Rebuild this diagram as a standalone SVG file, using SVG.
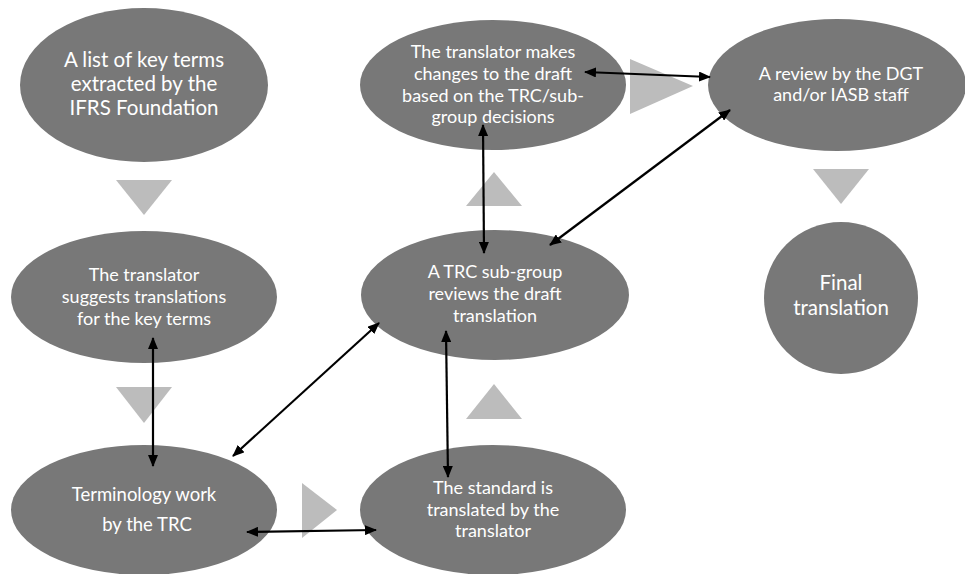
<svg xmlns="http://www.w3.org/2000/svg" width="965" height="574" viewBox="0 0 965 574">
<defs>
<style>
.n{fill:#787878}
.t{fill:#bcbcbc}
.tx{fill:#fff;font-family:Lato,"Open Sans",sans-serif;text-anchor:middle}
.c{stroke:#000;stroke-width:2.2;fill:none;marker-start:url(#ah);marker-end:url(#ah)}
</style>
<marker id="ah" viewBox="0 0 12 10" refX="11" refY="5" markerWidth="12" markerHeight="10" markerUnits="userSpaceOnUse" orient="auto-start-reverse">
<path d="M0,0 L12,5 L0,10 Z" fill="#000"/>
</marker>
</defs>
<rect width="965" height="574" fill="#fff"/>
<g id="flow-triangles">
<polygon class="t" points="116,180 172,180 144,215"/>
<polygon class="t" points="116,387 172,387 144,423"/>
<polygon class="t" points="302,483 337,510 302,538"/>
<polygon class="t" points="466,419 522,419 494,384"/>
<polygon class="t" points="466,206 522,206 494,172"/>
<polygon class="t" points="630,59 693,86 630,114"/>
<polygon class="t" points="813,169 869,169 841,204"/>
</g>
<g id="n1"><ellipse class="n" cx="144" cy="85" rx="124" ry="77"/>
<text class="tx" font-size="20.5"><tspan x="144" y="67">A list of key terms</tspan><tspan x="144" y="91">extracted by the</tspan><tspan x="144" y="115">IFRS Foundation</tspan></text></g>
<g id="n2"><ellipse class="n" cx="144" cy="297" rx="133" ry="66"/>
<text class="tx" font-size="18"><tspan x="144" y="281">The translator</tspan><tspan x="144" y="303">suggests translations</tspan><tspan x="144" y="325">for the key terms</tspan></text></g>
<g id="n3"><ellipse class="n" cx="144" cy="510" rx="133" ry="65"/>
<text class="tx" font-size="18.5"><tspan x="144" y="501">Terminology work</tspan><tspan x="147" y="531">by the TRC</tspan></text></g>
<g id="n4"><ellipse class="n" cx="493" cy="510" rx="133" ry="65"/>
<text class="tx" font-size="18"><tspan x="493" y="494">The standard is</tspan><tspan x="493" y="516">translated by the</tspan><tspan x="493" y="537">translator</tspan></text></g>
<g id="n5"><ellipse class="n" cx="495" cy="295" rx="134" ry="65"/>
<text class="tx" font-size="18"><tspan x="495" y="278">A TRC sub-group</tspan><tspan x="495" y="300">reviews the draft</tspan><tspan x="495" y="322">translation</tspan></text></g>
<g id="n6"><ellipse class="n" cx="493" cy="85" rx="133" ry="65"/>
<text class="tx" font-size="18"><tspan x="493" y="58">The translator makes</tspan><tspan x="493" y="80">changes to the draft</tspan><tspan x="493" y="102">based on the TRC/sub-</tspan><tspan x="493" y="123">group decisions</tspan></text></g>
<g id="n7"><ellipse class="n" cx="837" cy="85" rx="129" ry="66"/>
<text class="tx" font-size="18"><tspan x="841" y="80">A review by the DGT</tspan><tspan x="841" y="101">and/or IASB staff</tspan></text></g>
<g id="n8"><ellipse class="n" cx="841" cy="298" rx="77" ry="76"/>
<text class="tx" font-size="20.5"><tspan x="841" y="290">Final</tspan><tspan x="841" y="315">translation</tspan></text></g>
<g id="connectors">
<line class="c" x1="153" y1="338" x2="153" y2="466"/>
<line class="c" x1="233" y1="456" x2="379" y2="323"/>
<line class="c" x1="247" y1="532" x2="376" y2="530"/>
<line class="c" x1="446" y1="331" x2="448" y2="477"/>
<line class="c" x1="483" y1="125" x2="484" y2="253"/>
<line class="c" x1="550" y1="245" x2="730" y2="110"/>
<line class="c" x1="585" y1="72" x2="710" y2="77"/>
</g>
</svg>
